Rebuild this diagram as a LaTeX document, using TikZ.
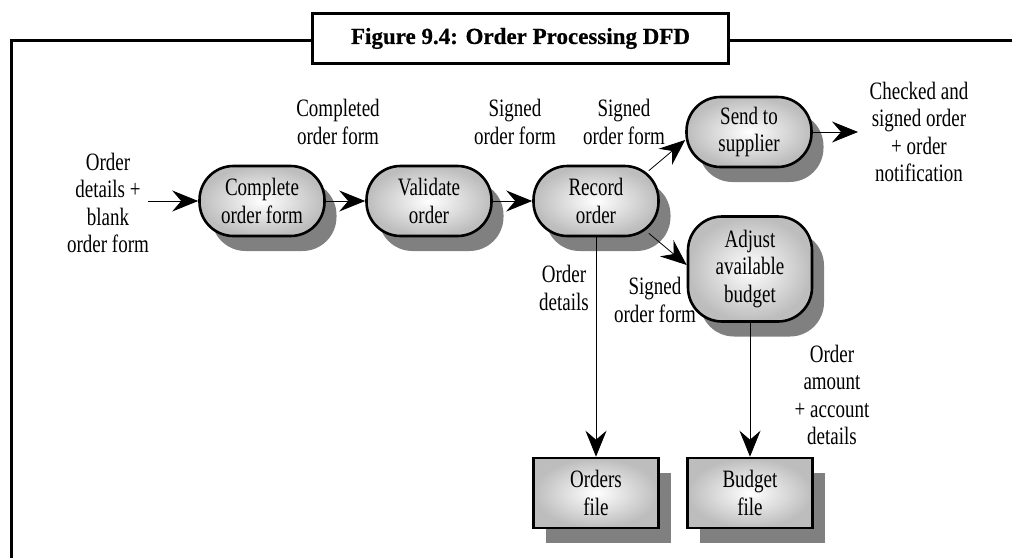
\documentclass[tikz,border=0pt]{standalone}
\usepackage{fontspec}
\setmainfont{Liberation Serif}
\newfontfamily\dfdfont[FakeStretch=0.76]{Liberation Serif}
\newfontfamily\ttlfont[FakeBold=0.6]{Liberation Serif}
\usetikzlibrary{arrows.meta,shadows}
\tikzset{
  dfdtext/.style={font=\dfdfont\fontsize{25}{27.5}\selectfont, align=center},
  base/.style={dfdtext, draw=black, line width=2.6pt, shading=radial,
    inner color=white, outer color=black!26,
    drop shadow={shadow xshift=12pt, shadow yshift=-15pt, fill=black!50, opacity=1, draw=none}},
  proc/.style={base, rounded corners=34pt, minimum width=125pt, minimum height=70pt, inner sep=0pt},
  store/.style={base, minimum width=125pt, minimum height=70pt, inner sep=0pt},
  lbl/.style={dfdtext, inner sep=0pt},
  arr/.style={draw=black, line width=0.8pt, -{Stealth[length=26pt, width=21pt, inset=9pt]}}
}
\begin{document}
\begin{tikzpicture}[x=1pt,y=-1pt]
\useasboundingbox (0,0) rectangle (1012,557);
% frame
\node[draw, line width=2.6pt, minimum width=416pt, minimum height=50pt, inner sep=0pt,
  font=\ttlfont\bfseries\fontsize{23}{26}\selectfont] (title) at (520.5,38.5) {Figure 9.4: Order Processing DFD};
\draw[line width=3pt] (title.west|-0,40) -- (11,40) -- (11,558);
\draw[line width=3pt] (title.east|-0,40) -- (1013,40);
% processes
\node[proc] (complete) at (262,201) {Complete\\order form};
\node[proc] (validate) at (429,201) {Validate\\order};
\node[proc] (record) at (596,201) {Record\\order};
\node[proc] (send) at (749,132) {Send to\\supplier};
\node[proc, minimum width=124pt, minimum height=105pt] (adjust) at (750,269) {Adjust\\available\\budget};
\node[store] (orders) at (596,493) {Orders\\file};
\node[store] (budget) at (750,493) {Budget\\file};
% free ends
\coordinate (in) at (148,201);
\coordinate (out) at (858,132);
% flows
\draw[arr] (in) -- (complete);
\draw[arr] (complete) -- (validate);
\draw[arr] (validate) -- (record);
\draw[arr] ([xshift=-11pt,yshift=-6pt]record.north east) -- ([yshift=-8pt]send.west);
\draw[arr] ([xshift=-11pt,yshift=4pt]record.south east) -- ([yshift=4pt]adjust.west);
\draw[arr] (send) -- (out);
\draw[arr] (record) -- (orders);
\draw[arr] (adjust) -- (budget);
% labels
\node[lbl] (l1) at (108,203) {Order\\details +\\blank\\order form};
\node[lbl] (l2) at (338,122) {Completed\\order form};
\node[lbl] (l3) at (515,122) {Signed\\order form};
\node[lbl] (l4) at (624,122) {Signed\\order form};
\node[lbl] (l5) at (919,132) {Checked and\\signed order\\+ order\\notification};
\node[lbl] (l6) at (564,288) {Order\\details};
\node[lbl] (l7) at (655,300) {Signed\\order form};
\node[lbl] (l8) at (832,395) {Order\\amount\\+ account\\details};
\end{tikzpicture}
\end{document}
